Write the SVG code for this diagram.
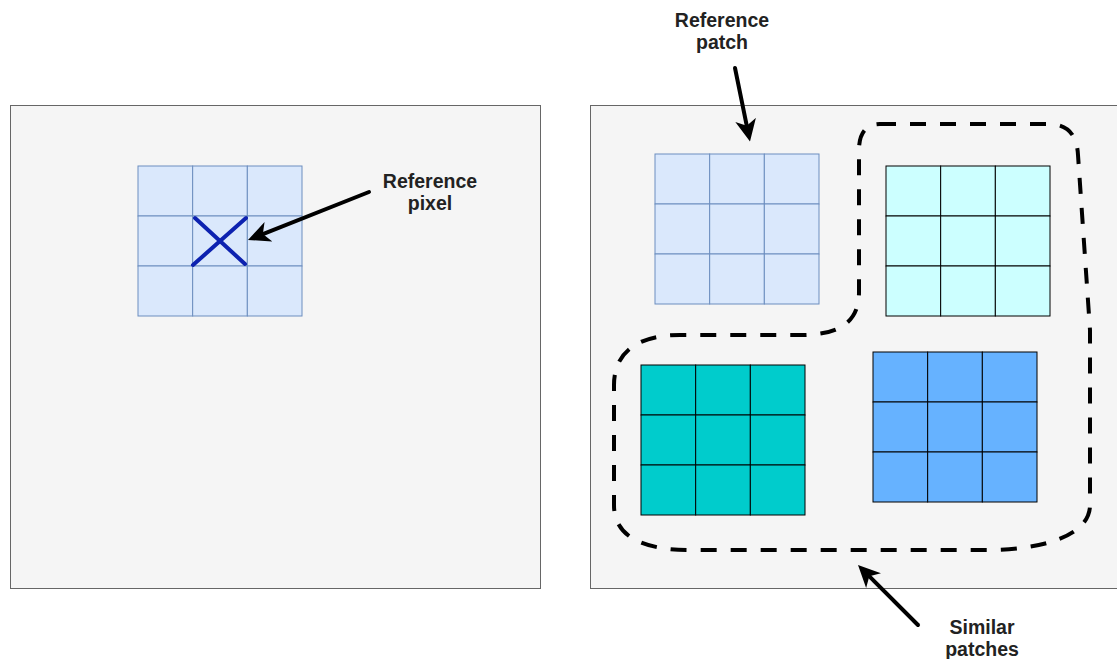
<svg xmlns="http://www.w3.org/2000/svg" xmlns:xlink="http://www.w3.org/1999/xlink" width="1117" height="659" viewBox="0 0 1117 659">
  <style>
    .panel { fill: #f5f5f5; stroke: #666666; stroke-width: 1; }
    .soft { fill: #dae8fc; stroke: #6c8ebf; stroke-width: 1; }
    .cyan { fill: #ccffff; stroke: #000000; stroke-width: 1; }
    .teal { fill: #00cccc; stroke: #000000; stroke-width: 1; }
    .blue { fill: #66b2ff; stroke: #000000; stroke-width: 1; }
    .label { font-family: "Liberation Sans", Arial, sans-serif; font-weight: bold; font-size: 19.5px; fill: #222222; text-anchor: middle; }
    .arrow { fill: none; stroke: #000000; stroke-width: 4; stroke-linecap: round; marker-end: url(#head); }
    .group { fill: none; stroke: #000000; stroke-width: 4; stroke-dasharray: 16 14; }
    .mark { stroke: #0d22b0; stroke-width: 4; stroke-linecap: round; }
  </style>
  <defs>
    <!-- 3x3 patch of pixels, 164 x 150 -->
    <symbol id="grid3" overflow="visible">
      <rect x="0" y="0" width="54.67" height="50"/>
      <rect x="54.67" y="0" width="54.67" height="50"/>
      <rect x="109.33" y="0" width="54.67" height="50"/>
      <rect x="0" y="50" width="54.67" height="50"/>
      <rect x="54.67" y="50" width="54.67" height="50"/>
      <rect x="109.33" y="50" width="54.67" height="50"/>
      <rect x="0" y="100" width="54.67" height="50"/>
      <rect x="54.67" y="100" width="54.67" height="50"/>
      <rect x="109.33" y="100" width="54.67" height="50"/>
    </symbol>
    <marker id="head" viewBox="0 0 22 22" refX="8" refY="11" markerWidth="22" markerHeight="22" markerUnits="userSpaceOnUse" orient="auto">
      <path d="M0,0.5 L22,11 L0,21.5 L6,11 Z" fill="#000000"/>
    </marker>
  </defs>

  <!-- left image with a single pixel marked -->
  <g id="image-left">
    <rect class="panel" x="10.5" y="105.5" width="530" height="483"/>
  </g>
  <g id="pixel-grid">
    <use xlink:href="#grid3" href="#grid3" class="soft" x="138" y="166"/>
    <line class="mark" x1="193" y1="265" x2="246" y2="218"/>
    <line class="mark" x1="195" y1="218" x2="245" y2="264"/>
  </g>
  <g id="label-pixel">
    <text class="label" x="430" y="188">Reference</text>
    <text class="label" x="430" y="210">pixel</text>
  </g>

  <!-- right image with reference patch and candidate patches -->
  <g id="image-right">
    <rect class="panel" x="590.5" y="105.5" width="540" height="483"/>
  </g>
  <g id="patch-reference">
    <use xlink:href="#grid3" href="#grid3" class="soft" x="655" y="154"/>
  </g>
  <g id="patch-cyan">
    <use xlink:href="#grid3" href="#grid3" class="cyan" x="886" y="166"/>
  </g>
  <g id="patch-teal">
    <use xlink:href="#grid3" href="#grid3" class="teal" x="641" y="365"/>
  </g>
  <g id="patch-blue">
    <use xlink:href="#grid3" href="#grid3" class="blue" x="873" y="352"/>
  </g>
  <g id="similar-outline">
    <path class="group" d="M 880 124 L 1048 124 C 1068 124 1077 135 1078 155 L 1090 330 L 1090 505 C 1090 535 1045 550 985 550 L 690 550 C 640 550 614 535 614 505 L 614 385 C 614 352 638 335 680 335 L 800 335 C 840 335 859 322 859 292 L 859 150 C 859 133 866 124 880 124 Z"/>
  </g>
  <g id="label-patch">
    <text class="label" x="722" y="27">Reference</text>
    <text class="label" x="722" y="49">patch</text>
  </g>
  <g id="label-similar">
    <text class="label" x="982" y="634">Similar</text>
    <text class="label" x="982" y="656">patches</text>
  </g>

  <!-- connectors -->
  <g id="connectors">
    <line class="arrow" x1="369" y1="192" x2="261" y2="234.8"/>
    <line class="arrow" x1="735" y1="68" x2="747.2" y2="127.8"/>
    <line class="arrow" x1="918" y1="625" x2="867.9" y2="574.9"/>
  </g>
</svg>
